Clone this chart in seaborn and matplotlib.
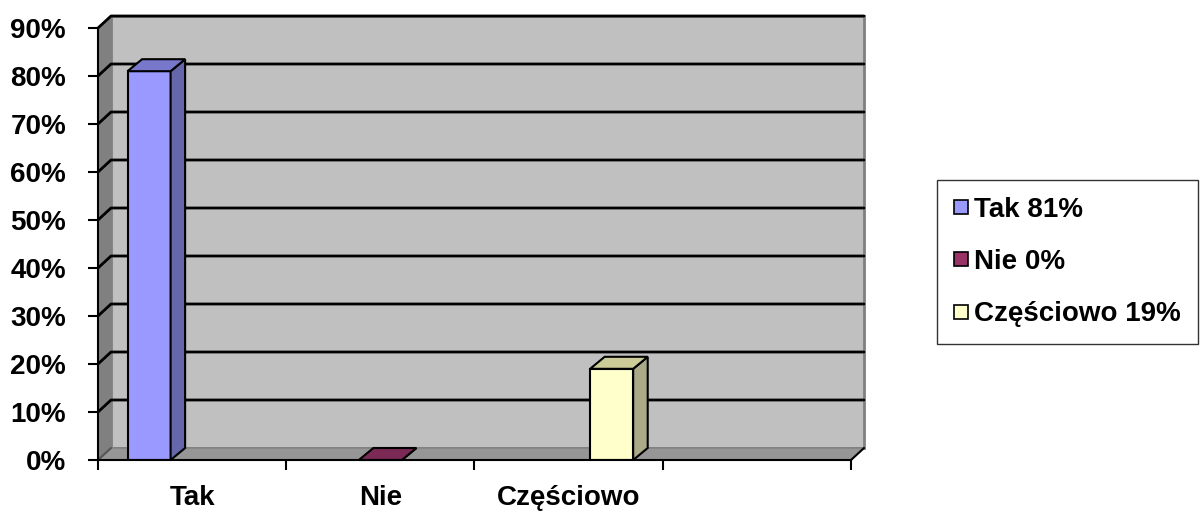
import pandas as pd
import seaborn as sns
import matplotlib.pyplot as plt
from matplotlib.patches import Polygon
from matplotlib.lines import Line2D

# dane
kategorie = ['Tak', 'Nie', 'Częściowo', '']
serie = ['Tak 81%', 'Nie 0%', 'Częściowo 19%']
wartosci = [81, 0, 19]
yticki = [0, 10, 20, 30, 40, 50, 60, 70, 80, 90]

kolory_przod = ['#9999ff', '#993366', '#ffffcc']
kolory_bok = ['#6666aa', '#662244', '#aaaa88']
kolory_gora = ['#7777cc', '#7a2a55', '#cccc99']

df = pd.DataFrame({'kategoria': kategorie[:3], 'seria': serie, 'wartosc': wartosci})

sns.set_style('white')
plt.rcParams['font.family'] = ['Liberation Sans', 'DejaVu Sans']
plt.rcParams['font.weight'] = 'bold'
plt.rcParams['text.color'] = 'black'

fig = plt.figure(figsize=(12, 5.13), dpi=100)
ax = fig.add_axes([98 / 1200, (513 - 460) / 513, (851 - 98) / 1200, (460 - 28) / 513])
ax.set_facecolor('none')

sns.barplot(data=df, x='kategoria', y='wartosc', hue='seria', order=kategorie,
            hue_order=serie, palette=kolory_przod, saturation=1, width=0.686, dodge=True,
            edgecolor='black', linewidth=1.5, legend=False, ax=ax, zorder=3)

ax.set_xlim(-0.5, 3.5)
ax.set_ylim(0, 90)

# glebokosc 3d w jednostkach danych
dx = 13 / 188
dy = 2.5
dxs = 14.5 / 188

# tylna sciana, podloga, lewa sciana
x0, x1 = -0.5, 3.5
ax.add_patch(Polygon([(x0 + dx, dy), (x1 + dx, dy), (x1 + dx, 90 + dy), (x0 + dx, 90 + dy)],
                     closed=True, facecolor='#c0c0c0', edgecolor='#808080', lw=2,
                     clip_on=False, zorder=0.5))
ax.add_patch(Polygon([(x0, 0), (x1, 0), (x1 + dx, dy), (x0 + dx, dy)],
                     closed=True, facecolor='#969696', edgecolor='#808080', lw=1,
                     clip_on=False, zorder=0.6))
ax.add_patch(Polygon([(x0, 0), (x0, 90), (x0 + dx, 90 + dy), (x0 + dx, dy)],
                     closed=True, facecolor='#808080', edgecolor='none',
                     clip_on=False, zorder=0.6))
# linie siatki
for v in yticki[1:]:
    ax.plot([x0, x0 + dx, x1 + dx], [v, v + dy, v + dy], color='black', lw=2,
            clip_on=False, zorder=1)
ax.plot([x0, x0 + dx], [0, dy], color='#555555', lw=1.5, clip_on=False, zorder=1)
ax.plot([x1, x1 + dx], [0, dy], color='black', lw=1.5, clip_on=False, zorder=1)

# boki i gory slupkow
for idx, cont in enumerate(ax.containers):
    for p in cont:
        bx = p.get_x()
        bw = p.get_width()
        bh = p.get_height()
        ax.add_patch(Polygon([(bx + bw, 0), (bx + bw + dxs, dy), (bx + bw + dxs, bh + dy), (bx + bw, bh)],
                             closed=True, facecolor=kolory_bok[idx], edgecolor='black', lw=1.5,
                             clip_on=False, zorder=3))
        ax.add_patch(Polygon([(bx, bh), (bx + dxs, bh + dy), (bx + bw + dxs, bh + dy), (bx + bw, bh)],
                             closed=True, facecolor=kolory_gora[idx], edgecolor='black', lw=1.5,
                             clip_on=False, zorder=3))

# osie
for s in ['top', 'right']:
    ax.spines[s].set_visible(False)
for s in ['left', 'bottom']:
    ax.spines[s].set_color('black')
    ax.spines[s].set_linewidth(1.5)
    ax.spines[s].set_zorder(4)

ax.set_yticks(yticki)
ax.set_yticklabels([f'{v}%' for v in yticki], fontsize=20, fontweight='bold', color='black')
ax.set_xticks([-0.5, 0.5, 1.5, 2.5, 3.5])
ax.set_xticklabels([])
ax.set_xticks([0, 1, 2, 3], minor=True)
ax.set_xticklabels(kategorie, minor=True, fontsize=20, fontweight='bold', color='black')
ax.tick_params(axis='y', which='major', direction='out', length=7, width=1.5,
               color='black', pad=16, left=True)
ax.tick_params(axis='x', which='major', direction='out', length=7, width=1.5,
               color='black', bottom=True)
ax.tick_params(axis='x', which='minor', length=0, pad=18)
ax.set_xlabel('')
ax.set_ylabel('')

# legenda
uchwyty = [Line2D([0], [0], marker='s', linestyle='none', markersize=10,
                  markerfacecolor=c, markeredgecolor='black', markeredgewidth=1.2)
           for c in kolory_przod]
leg = fig.legend(uchwyty, serie, loc='upper left', bbox_to_anchor=(937 / 1200, 1 - 180 / 513),
                 frameon=True, fancybox=False, edgecolor='black',
                 handlelength=0.5, handletextpad=0.25, labelspacing=0.95, borderpad=0.6,
                 borderaxespad=0, prop={'weight': 'bold', 'size': 20})
leg.get_frame().set_linewidth(1)
for t in leg.get_texts():
    t.set_color('black')

fig.savefig('out.png', dpi=100, facecolor='white')
